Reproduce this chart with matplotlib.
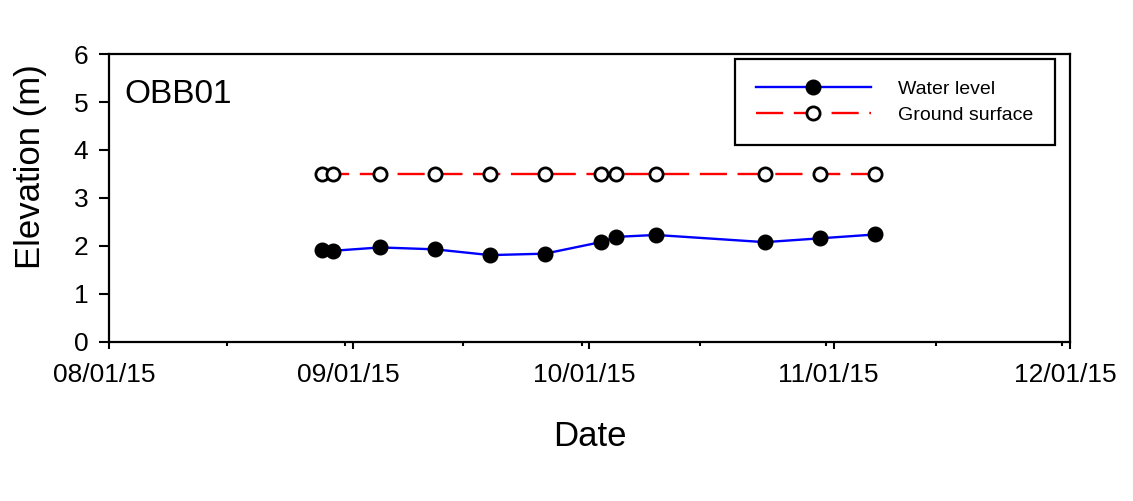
import matplotlib
matplotlib.use("Agg")
import matplotlib.pyplot as plt
import matplotlib.dates as mdates
import matplotlib.transforms as mtransforms
import pandas as pd

plt.rcParams['font.family'] = ['Liberation Sans', 'DejaVu Sans']

# survey dates and elevations in m
dates = pd.to_datetime([
    "2015-08-28 00:00", "2015-08-29 10:00", "2015-09-04 10:00", "2015-09-11 10:00",
    "2015-09-18 09:00", "2015-09-25 08:00", "2015-10-02 10:00", "2015-10-04 10:00",
    "2015-10-09 10:00", "2015-10-23 06:00", "2015-10-30 07:00", "2015-11-06 07:00",
])
water_level = [1.91, 1.90, 1.97, 1.93, 1.81, 1.84, 2.08, 2.19, 2.23, 2.08, 2.16, 2.24]
ground_surface = [3.51] * 12

major_dates = pd.to_datetime(["2015-08-01", "2015-09-01", "2015-10-01", "2015-11-01", "2015-12-01"])
minor_dates = pd.to_datetime(["2015-08-16", "2015-08-31", "2015-09-15", "2015-09-30",
                              "2015-10-15", "2015-10-31", "2015-11-14", "2015-11-30"])
station = "OBB01"

fig = plt.figure(figsize=(11.33, 5.01), dpi=100)
ax = fig.add_axes([0.0962, 0.3174, 0.8482, 0.5748])

ax.plot(dates, water_level, color='#0000ff', lw=1.7, marker='o', ms=10.5,
        mfc='black', mec='black', label='Water level', zorder=3)
ax.plot(dates, ground_surface, color='#ff0000', lw=1.7, linestyle=(0, (11.5, 4.5)),
        marker='o', ms=9.5, mfc='white', mec='black', mew=2, label='Ground surface', zorder=3)

ax.set_xlim(major_dates[0], major_dates[-1])
ax.set_ylim(0, 6)
ax.set_xticks(major_dates)
ax.set_xticks(minor_dates, minor=True)
ax.xaxis.set_major_formatter(mdates.DateFormatter('%m/%d/%y'))
ax.set_yticks(range(0, 7))

for s in ax.spines.values():
    s.set_linewidth(1.6)
ax.tick_params(axis='both', which='both', direction='out', width=1.5, labelsize=19)
ax.tick_params(axis='y', length=7, pad=8)
ax.tick_params(axis='x', which='major', length=5, pad=10)
ax.tick_params(axis='x', which='minor', length=3)

# date labels sit a little left of their ticks in the original
shift = mtransforms.ScaledTranslation(-0.05, 0, fig.dpi_scale_trans)
for lab in ax.get_xticklabels():
    lab.set_transform(lab.get_transform() + shift)

ax.set_xlabel('Date', fontsize=25)
ax.set_ylabel('Elevation (m)', fontsize=25)
ax.xaxis.set_label_coords(0.5, -0.27)
ax.yaxis.set_label_coords(-0.065, 0.61)

ax.text(0.016, 0.83, station, transform=ax.transAxes, fontsize=24, va='baseline')

leg = ax.legend(loc='upper right', bbox_to_anchor=(0.984, 0.983), borderaxespad=0,
                fontsize=14, numpoints=1, handlelength=5.9, handletextpad=1.4,
                borderpad=1.1, labelspacing=0.44, fancybox=False, framealpha=1,
                edgecolor='black')
leg.get_frame().set_linewidth(1.6)

fig.savefig('out.png', dpi=100, facecolor='white')
